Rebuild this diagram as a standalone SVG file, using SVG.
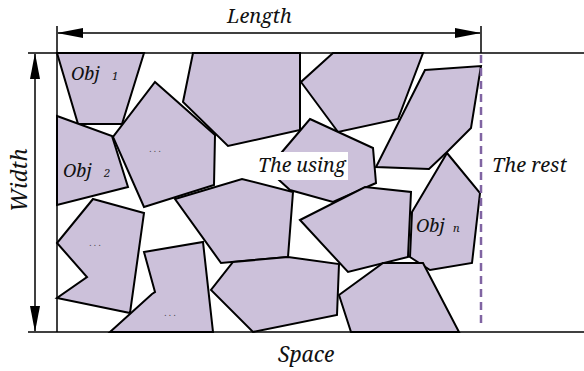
<svg xmlns="http://www.w3.org/2000/svg" width="584" height="371" viewBox="0 0 584 371">
<style>
.p{fill:#ccc1da;stroke:#000;stroke-width:2;stroke-linejoin:miter}
.ln{stroke:#000;stroke-width:1.5;fill:none}
.t{font-family:'Noto Serif','DejaVu Serif',serif;font-style:italic;fill:#111}
.d{font-family:'Noto Serif','DejaVu Serif',serif;font-size:9px;fill:#444}
</style>
<defs>
<marker id="ah" markerWidth="26" markerHeight="10" refX="25" refY="5" orient="auto-start-reverse" markerUnits="userSpaceOnUse">
<path d="M0,0 L26,5 L0,10 Z" fill="#000"/>
</marker>
</defs>
<rect width="584" height="371" fill="#fff"/>
<g id="shapes">
<polygon id="obj1" class="p" points="57,53 144,53 122,124 78,124"/>
<polygon id="p3" class="p" points="193,53 300,53 300,130 228,146 183,102"/>
<polygon id="obj2" class="p" points="57,116 112,136 128,187 57,205"/>
<polygon id="p2" class="p" points="155,82 215,135 214,185 144,207 113,137"/>
<polygon id="p4" class="p" points="333,53 423,53 398,119 338,132 301,82"/>
<polygon id="p5" class="p" points="425,70 481,66 471,128 447,152 429,169 376,167"/>
<polygon id="p6" class="p" points="310,119 373,148 376,183 333,202 290,190 268,170 282,152"/>
<polygon id="p7" class="p" points="175,199 242,179 293,192 288,257 221,263"/>
<polygon id="p8" class="p" points="300,220 365,187 411,192 408,257 348,272"/>
<polygon id="objn" class="p" points="447,153 480,193 472,263 430,270 410,257 412,212"/>
<polygon id="p10" class="p" points="93,199 144,213 130,313 57,298 87,277 57,243"/>
<polygon id="p9" class="p" points="144,252 203,242 213,332 110,332 152,294 155,292"/>
<polygon id="p11" class="p" points="233,262 288,257 339,264 337,315 253,332 211,290"/>
<polygon id="p12" class="p" points="339,295 383,263 423,263 459,332 351,332"/>
</g>
<g id="connectors">
<line class="ln" x1="28" y1="53" x2="584" y2="53"/>
<line class="ln" x1="28" y1="332" x2="584" y2="332"/>
<line class="ln" x1="57" y1="26" x2="57" y2="332"/>
<line class="ln" x1="481" y1="26" x2="481" y2="53"/>
<line class="ln" x1="58" y1="33" x2="480" y2="33" marker-start="url(#ah)" marker-end="url(#ah)"/>
<line class="ln" x1="35" y1="54" x2="35" y2="331" marker-start="url(#ah)" marker-end="url(#ah)"/>
<line x1="481" y1="55" x2="481" y2="326" stroke="#8064a2" stroke-width="2.5" stroke-dasharray="8,5"/>
</g>
<g id="labels">
<text class="t" x="227" y="23" font-size="20">Length</text>
<text class="t" x="278" y="362" font-size="21">Space</text>
<text class="t" transform="translate(27,212) rotate(-90)" font-size="22">Width</text>
<text class="t" x="492" y="172" font-size="20">The rest</text>
<rect x="254" y="152" width="94" height="28" fill="#fff"/>
<text class="t" x="258" y="172" font-size="19.5">The using</text>
<text class="t" x="71" y="80" font-size="18">Obj</text>
<text class="t" x="112" y="80" font-size="11">1</text>
<text class="t" x="63" y="177" font-size="18">Obj</text>
<text class="t" x="104" y="177" font-size="11">2</text>
<text class="t" x="416" y="232" font-size="18">Obj</text>
<text class="t" x="453" y="232" font-size="11">n</text>
<text class="d" x="155" y="152" text-anchor="middle">. . .</text>
<text class="d" x="95" y="246" text-anchor="middle">. . .</text>
<text class="d" x="170" y="316" text-anchor="middle">. . .</text>
</g>
</svg>
